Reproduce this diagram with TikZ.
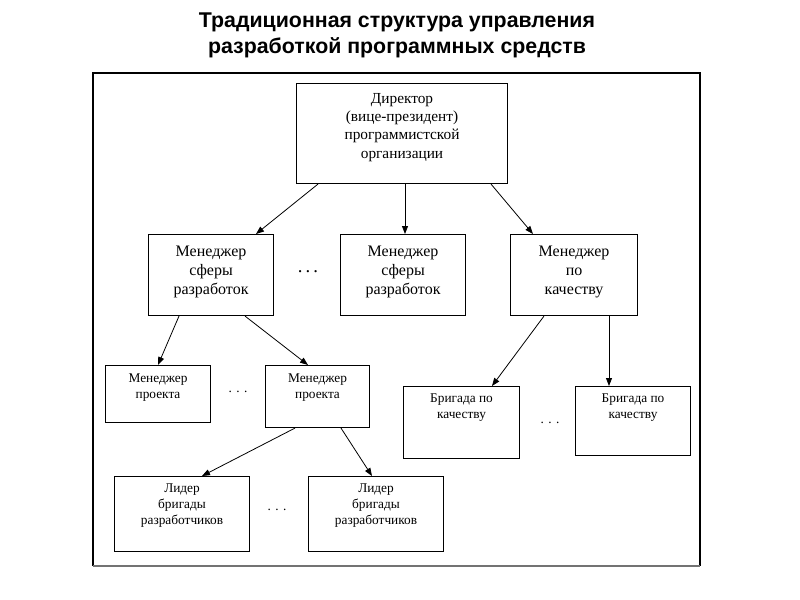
\documentclass[tikz,border=0pt]{standalone}
\usepackage{fontspec}
\setmainfont{Liberation Serif}
\newfontfamily\titlefont{Liberation Sans}
\usetikzlibrary{arrows.meta,calc}
\tikzset{
  box/.style={draw=black, line width=0.8pt, fill=white, inner sep=0pt, anchor=north west},
  conn/.style={draw=black, line width=0.6pt, -{Triangle[length=6pt,width=4.5pt]}},
  bigtxt/.style={anchor=north, align=center, inner sep=0pt, font=\fontsize{12}{14.25}\selectfont},
  dirtxt/.style={anchor=north, align=center, inner sep=0pt, font=\fontsize{11.5}{13.75}\selectfont},
  smalltxt/.style={anchor=north, align=center, inner sep=0pt, font=\fontsize{10}{12}\selectfont},
  dotsbig/.style={inner sep=0pt, font=\fontsize{14}{14}\selectfont},
  dotssmall/.style={inner sep=0pt, font=\fontsize{10}{10}\selectfont},
}
\begin{document}
\begin{tikzpicture}[x=0.75pt,y=-0.75pt]
\useasboundingbox (0,0) rectangle (800,600);
% title
\node[align=center, inner sep=0pt, font=\titlefont\bfseries\fontsize{16}{19.5}\selectfont] (title) at (397,35)
  {Традиционная структура управления\\разработкой программных средств};
% frame
\draw[line width=0.8pt, black] (93,566) -- (93,73) -- (700,73) -- (700,566);
\draw[line width=0.8pt, black!55] (93,566) -- (700,566);
% boxes
\node[box, minimum width=158.25pt, minimum height=75pt] (dir) at (296,83) {};
\node[box, minimum width=93.75pt, minimum height=60.75pt] (m1) at (148,234) {};
\node[box, minimum width=93.75pt, minimum height=60.75pt] (m2) at (340,234) {};
\node[box, minimum width=95.25pt, minimum height=60.75pt] (m3) at (510,234) {};
\node[box, minimum width=78.75pt, minimum height=42.75pt] (p1) at (105,365) {};
\node[box, minimum width=78pt, minimum height=46.5pt] (p2) at (265,365) {};
\node[box, minimum width=87pt, minimum height=54pt] (b1) at (403,386) {};
\node[box, minimum width=86.25pt, minimum height=51.75pt] (b2) at (575,386) {};
\node[box, minimum width=101.25pt, minimum height=56.25pt] (l1) at (114,476) {};
\node[box, minimum width=101.25pt, minimum height=56.25pt] (l2) at (308,476) {};
% texts
\node[dirtxt] (dirt) at ($(dir.north)+(0,10)$) {Директор\\(вице-президент)\\программистской\\организации};
\node[bigtxt] (m1t) at ($(m1.north)+(0,12)$) {Менеджер\\сферы\\разработок};
\node[bigtxt] (m2t) at ($(m2.north)+(0,12)$) {Менеджер\\сферы\\разработок};
\node[bigtxt] (m3t) at ($(m3.north)+(0,12)$) {Менеджер\\по\\качеству};
\node[smalltxt] (p1t) at ($(p1.north)+(0,8)$) {Менеджер\\проекта};
\node[smalltxt] (p2t) at ($(p2.north)+(0,8)$) {Менеджер\\проекта};
\node[smalltxt] (b1t) at ($(b1.north)+(0,7)$) {Бригада по\\качеству};
\node[smalltxt] (b2t) at ($(b2.north)+(0,7)$) {Бригада по\\качеству};
\node[smalltxt] (l1t) at ($(l1.north)+(0,7)$) {Лидер\\бригады\\разработчиков};
\node[smalltxt] (l2t) at ($(l2.north)+(0,7)$) {Лидер\\бригады\\разработчиков};
% dots
\node[dotsbig] (d1) at (308,272) {.\,.\,.};
\node[dotssmall] (d2) at (238,392) {.\,\,.\,\,.};
\node[dotssmall] (d3) at (550,423) {.\,\,.\,\,.};
\node[dotssmall] (d4) at (277,510) {.\,\,.\,\,.};
% connectors
\draw[conn] ($(dir.south west)+(22,0)$) -- ($(m1.north west)+(108,0)$);
\draw[conn] ($(dir.south west)+(109,0)$) -- ($(m2.north west)+(65,0)$);
\draw[conn] ($(dir.south west)+(195,0)$) -- ($(m3.north west)+(23,0)$);
\draw[conn] ($(m1.south west)+(31,0)$) -- ($(p1.north west)+(53,0)$);
\draw[conn] ($(m1.south west)+(97,0)$) -- ($(p2.north west)+(43,0)$);
\draw[conn] ($(m3.south west)+(34,0)$) -- ($(b1.north west)+(89,0)$);
\draw[conn] ($(m3.south west)+(99,0)$) -- ($(b2.north west)+(34,0)$);
\draw[conn] ($(p2.south west)+(30,0)$) -- ($(l1.north west)+(88,0)$);
\draw[conn] ($(p2.south west)+(76,0)$) -- ($(l2.north west)+(64,0)$);
\end{tikzpicture}
\end{document}
